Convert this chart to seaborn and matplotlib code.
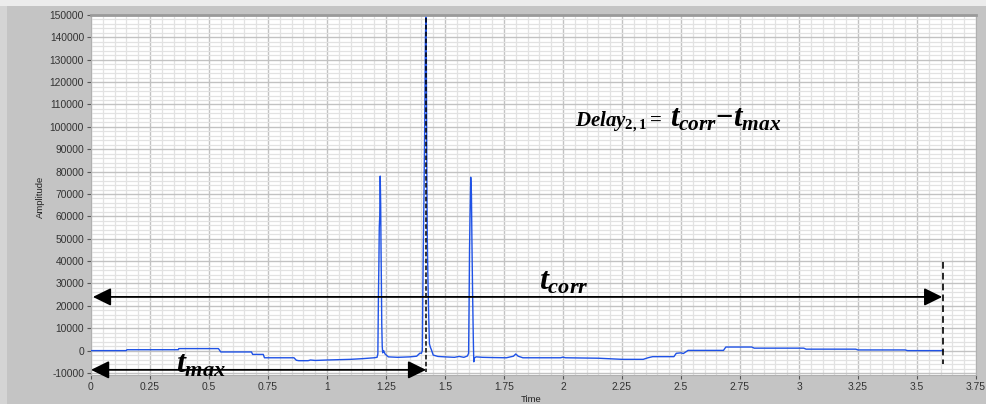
import matplotlib
matplotlib.use("Agg")
import matplotlib.pyplot as plt
import seaborn as sns
import pandas as pd
from matplotlib.ticker import MultipleLocator
from matplotlib.patches import Rectangle

# ---------------- data ----------------
time = [0.000, 0.150, 0.152, 0.370, 0.372, 0.540, 0.550, 0.680, 0.685, 0.730,
        0.735, 0.860, 0.870, 0.880, 0.920, 0.930, 0.950, 1.000, 1.100, 1.150,
        1.200, 1.212, 1.2155, 1.218, 1.220, 1.2215, 1.2235, 1.2255, 1.2275, 1.229,
        1.2305, 1.232, 1.234, 1.236, 1.240, 1.246, 1.260, 1.300, 1.350, 1.380,
        1.394, 1.400, 1.404, 1.406, 1.408, 1.411, 1.414, 1.417, 1.419, 1.421,
        1.423, 1.425, 1.428, 1.431, 1.434, 1.438, 1.442, 1.450, 1.470, 1.500,
        1.540, 1.560, 1.580, 1.595, 1.600, 1.602, 1.604, 1.606, 1.609, 1.612,
        1.614, 1.617, 1.620, 1.622, 1.625, 1.632, 1.660, 1.700, 1.760, 1.790,
        1.800, 1.810, 1.830, 1.990, 2.000, 2.010, 2.150, 2.250, 2.340, 2.360,
        2.380, 2.470, 2.480, 2.500, 2.510, 2.530, 2.680, 2.690, 2.800, 2.810,
        3.020, 3.030, 3.240, 3.250, 3.450, 3.460, 3.610]
amplitude = [0, 0, 400, 400, 900, 900, -600, -600, -1700, -1700,
             -3200, -3200, -4300, -4500, -4500, -4200, -4400, -4200, -3900, -3600,
             -3200, -3000, -1500, 25000, 40000, 55000, 60000, 78000, 65000, 45000,
             30000, 12000, 2000, -1000, 0, -1500, -2800, -3000, -2800, -2500,
             -1100, -1200, 0, 25000, 45000, 70000, 100000, 140000, 149000, 130000,
             80000, 50000, 30000, 15000, 3000, 1500, 500, -2000, -2600, -2800,
             -3000, -2600, -3000, -2400, -1200, 20000, 45000, 60000, 77500, 70000,
             50000, 25000, 5000, -5000, -3200, -2800, -3000, -3100, -3200, -2500,
             -1500, -2500, -3200, -3200, -2900, -3200, -3400, -3900, -3900, -3200,
             -2700, -2700, -1200, -1000, -1300, 100, 100, 1600, 1600, 1100,
             1100, 650, 650, 300, 300, 0, 0]

x_ticks = [0, 0.25, 0.5, 0.75, 1, 1.25, 1.5, 1.75, 2, 2.25, 2.5, 2.75, 3, 3.25, 3.5, 3.75]
x_tick_labels = ["0", "0.25", "0.5", "0.75", "1", "1.25", "1.5", "1.75", "2",
                 "2.25", "2.5", "2.75", "3", "3.25", "3.5", "3.75"]
y_ticks = [-10000, 0, 10000, 20000, 30000, 40000, 50000, 60000, 70000, 80000,
           90000, 100000, 110000, 120000, 130000, 140000, 150000]
y_tick_labels = [str(v) for v in y_ticks]

t_max = 1.42
t_corr = 3.61
arrow_corr_y = 24000
arrow_max_y = -8600

df = pd.DataFrame({"Time": time, "Amplitude": amplitude})

# ---------------- style ----------------
sns.set_style("white")
plt.rcParams["font.family"] = ["Liberation Sans", "DejaVu Sans"]
plt.rcParams["mathtext.fontset"] = "custom"
plt.rcParams["mathtext.it"] = "Liberation Serif:italic:bold"
plt.rcParams["mathtext.bf"] = "Liberation Serif:bold"
plt.rcParams["mathtext.rm"] = "Liberation Serif:bold"

fig = plt.figure(figsize=(9.87, 4.04), dpi=100)
fig.patch.set_facecolor("#c4c4c4")
fig.add_artist(Rectangle((0, 0), 7 / 987, 1, transform=fig.transFigure,
                         facecolor="#d4d4d4", edgecolor="none", zorder=0))
fig.add_artist(Rectangle((0, 1 - 6 / 404), 1, 6 / 404, transform=fig.transFigure,
                         facecolor="#ececec", edgecolor="none", zorder=0))

ax = fig.add_axes([91 / 987, 29 / 404, 885 / 987, 360 / 404])
ax.set_facecolor("white")

sns.lineplot(data=df, x="Time", y="Amplitude", estimator=None, sort=False,
             color="#1f52e6", linewidth=1.0, ax=ax, zorder=3)

ax.set_xlim(0, 3.75)
ax.set_ylim(-10900, 150000)

ax.set_xticks(x_ticks)
ax.set_xticklabels(x_tick_labels)
ax.set_yticks(y_ticks)
ax.set_yticklabels(y_tick_labels)
ax.xaxis.set_minor_locator(MultipleLocator(0.05))
ax.yaxis.set_minor_locator(MultipleLocator(2000))

ax.grid(which="major", color="#c2c2c2", linewidth=1.0, zorder=0)
ax.grid(which="minor", color="#e2e2e2", linewidth=0.9, zorder=0)
ax.set_axisbelow(True)

ax.tick_params(which="major", direction="out", length=3, width=0.8,
               color="#555555", labelsize=7.4, labelcolor="#333333", pad=2,
               left=True, bottom=True)
ax.tick_params(which="minor", length=0)

for side in ["left", "bottom", "right"]:
    ax.spines[side].set_color("#b0b0b0")
    ax.spines[side].set_linewidth(0.8)
ax.spines["top"].set_color("#9a9a9a")
ax.spines["top"].set_linewidth(2.0)

ax.set_xlabel("")
ax.set_ylabel("")
fig.text(40 / 987, 1 - 197 / 404, "Amplitude", rotation=90, ha="center",
         va="center", fontsize=6.8, color="#222222")
fig.text(531 / 987, 1 - 399 / 404, "Time", ha="center", va="center",
         fontsize=6.8, color="#222222")

# ---------------- annotations ----------------
ax.plot([t_max, t_max], [148500, -9500], color="black", linewidth=1.1,
        linestyle=(0, (3, 1.5)), zorder=4)
ax.plot([t_corr, t_corr], [39500, -6000], color="black", linewidth=1.2,
        linestyle=(0, (4, 2.5)), zorder=4)

arrow_style = "<|-|>,head_length=0.55,head_width=0.27"
ax.annotate("", xy=(0.008, arrow_corr_y), xytext=(t_corr - 0.003, arrow_corr_y),
            arrowprops=dict(arrowstyle=arrow_style, color="black", lw=1.3,
                            mutation_scale=20, shrinkA=0, shrinkB=0), zorder=5)
ax.annotate("", xy=(0.0, arrow_max_y), xytext=(t_max, arrow_max_y),
            arrowprops=dict(arrowstyle=arrow_style, color="black", lw=1.3,
                            mutation_scale=20, shrinkA=0, shrinkB=0), zorder=5)

ax.text(1.90, 27200, r"$\mathit{t}_{\mathit{corr}}$", fontsize=23,
        ha="left", va="baseline", color="black", zorder=6)
ax.text(0.36, -9600, r"$\mathit{t}_{\mathit{max}}$", fontsize=23,
        ha="left", va="baseline", color="black", zorder=6)
ax.text(2.05, 100000, r"$\mathit{Delay}_{\mathbf{2,1}}\mathbf{=}$",
        fontsize=15, ha="left", va="baseline", color="black", zorder=6)
ax.text(2.455, 100000, r"$\mathit{t}_{\mathit{corr}}\mathbf{-}\mathit{t}_{\mathit{max}}$",
        fontsize=22, ha="left", va="baseline", color="black", zorder=6)

fig.savefig("out.png", dpi=100, facecolor=fig.get_facecolor())
